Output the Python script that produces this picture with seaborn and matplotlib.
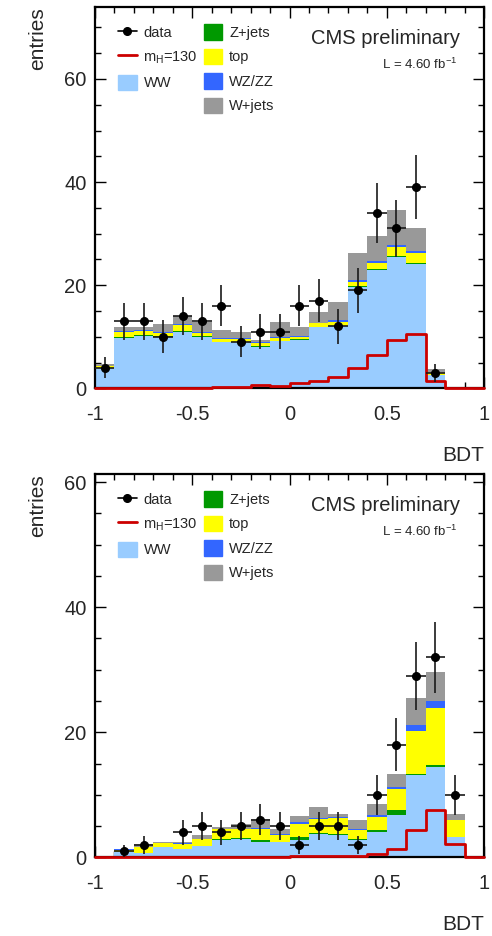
import numpy as np
import pandas as pd
import matplotlib
matplotlib.use("Agg")
import matplotlib.pyplot as plt
from matplotlib.lines import Line2D
from matplotlib.patches import Patch
from matplotlib.ticker import MultipleLocator
import seaborn as sns

# ---------------- data ----------------
bin_edges = [round(v, 2) for v in np.linspace(-1.0, 1.0, 21)]
bin_centers = np.round((np.array(bin_edges[:-1]) + np.array(bin_edges[1:])) / 2, 3)

components = ["WW", "Z+jets", "top", "WZ/ZZ", "W+jets"]
colors = {"WW": "#99CCFF", "Z+jets": "#009900", "top": "#FFFF00",
          "WZ/ZZ": "#3366FF", "W+jets": "#999999"}
signal_color = "#CC0000"

# top panel
top_ww    = [3.9, 9.8, 10.2, 10.0, 11.0, 10.0, 8.9, 8.9, 8.1, 9.1, 9.3, 11.8, 12.0, 19.7, 23.0, 25.5, 24.2, 2.6, 0, 0]
top_zjets = [0.1, 0.1, 0.1, 0.1, 0.15, 0.15, 0.1, 0.1, 0.1, 0.1, 0.2, 0.1, 0.15, 0.15, 0.1, 0.2, 0.2, 0.05, 0, 0]
top_top   = [0.3, 1.1, 0.9, 0.6, 1.15, 0.65, 0.6, 0.6, 0.5, 0.6, 0.5, 0.7, 0.75, 0.75, 1.3, 1.7, 1.8, 0.35, 0, 0]
top_wzzz  = [0.05, 0.15, 0.2, 0.15, 0.15, 0.2, 0.15, 0.15, 0.2, 0.2, 0.1, 0.15, 0.4, 0.4, 0.3, 0.4, 0.5, 0.05, 0, 0]
top_wjets = [0.35, 0.75, 0.4, 1.65, 1.65, 1.8, 1.55, 1.25, 0.5, 2.9, 1.7, 2.05, 3.4, 5.2, 4.9, 6.8, 4.4, 0.65, 0, 0]
top_signal = [0.05, 0.05, 0.05, 0.05, 0.05, 0.1, 0.25, 0.25, 0.65, 0.35, 1.0, 1.5, 2.1, 4.0, 6.5, 9.4, 10.6, 1.5, 0, 0]
top_data  = [4, 13, 13, 10, 14, 13, 16, 9, 11, 11, 16, 17, 12, 19, 34, 31, 39, 3, 0, 0]

# bottom panel
bot_ww    = [0.15, 0.8, 0.65, 1.6, 1.3, 1.8, 2.8, 3.0, 2.4, 2.4, 2.7, 3.8, 3.6, 2.8, 4.0, 6.8, 13.1, 14.5, 3.2, 0]
bot_zjets = [0, 0.05, 0.05, 0.05, 0.05, 0.05, 0.05, 0.05, 0.4, 0.1, 0.6, 0.15, 0.1, 0.05, 0.4, 0.8, 0.2, 0.2, 0.1, 0]
bot_top   = [0, 0.35, 0.9, 0.6, 0.75, 1.05, 1.65, 1.45, 1.8, 1.1, 2.1, 2.15, 2.6, 1.55, 2.1, 3.3, 6.9, 9.2, 2.6, 0]
bot_wzzz  = [0, 0.05, 0.1, 0.1, 0.15, 0.1, 0.1, 0.1, 0.15, 0.15, 0.25, 0.2, 0.2, 0.2, 0.2, 0.3, 1.0, 1.1, 0.1, 0]
bot_wjets = [0, 0.1, 0.4, 0.1, 0.2, 0.6, 0.2, 0.8, 1.45, 0.75, 0.95, 1.7, 0.4, 1.4, 1.9, 2.1, 4.2, 4.6, 0.9, 0]
bot_signal = [0.02, 0.02, 0.02, 0.02, 0.02, 0.02, 0.02, 0.02, 0.02, 0.02, 0.2, 0.2, 0.2, 0.25, 0.5, 1.4, 4.4, 7.6, 2.2, 0]
bot_data  = [0, 1, 2, 0, 4, 5, 4, 5, 6, 5, 2, 5, 5, 2, 10, 18, 29, 32, 10, 0]

x_ticks = [-1, -0.5, 0, 0.5, 1]
x_tick_labels = ["-1", "-0.5", "0", "0.5", "1"]

panels = [
    dict(bkg=[top_ww, top_zjets, top_top, top_wzzz, top_wjets], sig=top_signal,
         data=top_data, ymax=73.9),
    dict(bkg=[bot_ww, bot_zjets, bot_top, bot_wzzz, bot_wjets], sig=bot_signal,
         data=bot_data, ymax=61.3),
]

# ---------------- style ----------------
sns.set_theme(style="ticks")
plt.rcParams["font.family"] = ["Liberation Sans", "DejaVu Sans"]
plt.rcParams["mathtext.default"] = "regular"

W, H = 492, 936
fig = plt.figure(figsize=(W / 100, H / 100), dpi=100)
ax_rects = [
    [95 / W, 1 - 388.3 / H, (484 - 95) / W, (388.3 - 7.3) / H],
    [95 / W, 1 - 857.3 / H, (484 - 95) / W, (857.3 - 474) / H],
]

for rect, p in zip(ax_rects, panels):
    ax = fig.add_axes(rect)
    rows = []
    for name, vals in zip(components, p["bkg"]):
        for c, v in zip(bin_centers, vals):
            rows.append({"x": float(c), "w": float(v), "process": name})
    df = pd.DataFrame(rows)
    sns.histplot(data=df, x="x", weights="w", hue="process",
                 hue_order=components[::-1], palette=colors,
                 bins=bin_edges, multiple="stack", element="step",
                 fill=True, alpha=1.0, linewidth=0, legend=False, ax=ax)
    sig_df = pd.DataFrame({"x": bin_centers, "w": p["sig"]})
    sns.histplot(data=sig_df, x="x", weights="w", bins=bin_edges,
                 element="step", fill=False, color=signal_color,
                 linewidth=2.0, ax=ax, zorder=4, clip_on=False)
    d = np.array(p["data"], dtype=float)
    m = d > 0
    ax.errorbar(bin_centers[m], d[m], xerr=0.05, yerr=np.sqrt(d[m]),
                fmt="o", color="black", ecolor="#1a1a1a", ms=5.5,
                elinewidth=1.2, capsize=0, zorder=5)

    ax.set_xlim(-1, 1)
    ax.set_ylim(0, p["ymax"])
    ax.set_xticks(x_ticks)
    ax.set_xticklabels(x_tick_labels)
    ax.xaxis.set_minor_locator(MultipleLocator(0.1))
    ax.yaxis.set_major_locator(MultipleLocator(20))
    ax.yaxis.set_minor_locator(MultipleLocator(5))
    ax.tick_params(which="both", direction="in", top=True, right=True,
                   width=1.0, color="black", labelsize=14.5)
    ax.tick_params(which="major", length=8)
    ax.tick_params(which="minor", length=4)
    ax.tick_params(axis="x", which="major", pad=12)
    ax.tick_params(axis="y", which="major", pad=6)
    for s in ax.spines.values():
        s.set_linewidth(1.6)
        s.set_color("black")
        s.set_zorder(3)
    ax.set_xlabel("BDT", loc="right", fontsize=15, labelpad=16)
    ax.set_ylabel("entries", loc="top", fontsize=15, labelpad=12)

    # legend
    h_data = Line2D([], [], color="black", marker="o", ms=5.5, lw=1.2)
    h_sig = Line2D([], [], color=signal_color, lw=2.0)
    leg_kw = dict(loc="upper left", frameon=False, fontsize=10.5,
                  handlelength=1.3, handleheight=1.24, handletextpad=0.45,
                  labelspacing=0.61, borderpad=0, borderaxespad=0)
    leg1 = ax.legend([h_data, h_sig, Patch(color=colors["WW"])],
                     ["data", "m$_\\mathregular{H}$=130", "WW"],
                     bbox_to_anchor=(0.059, 0.955), **leg_kw)
    ax.add_artist(leg1)
    ax.legend([Patch(color=colors[c]) for c in ["Z+jets", "top", "WZ/ZZ", "W+jets"]],
              ["Z+jets", "top", "WZ/ZZ", "W+jets"],
              bbox_to_anchor=(0.279, 0.955), **leg_kw)

    ax.text(0.938, 0.918, "CMS preliminary", transform=ax.transAxes,
            ha="right", va="center", fontsize=14.5)
    ax.text(0.931, 0.85, "L = 4.60 fb$^{-1}$", transform=ax.transAxes,
            ha="right", va="center", fontsize=9.5)

fig.savefig("out.png", dpi=100)
